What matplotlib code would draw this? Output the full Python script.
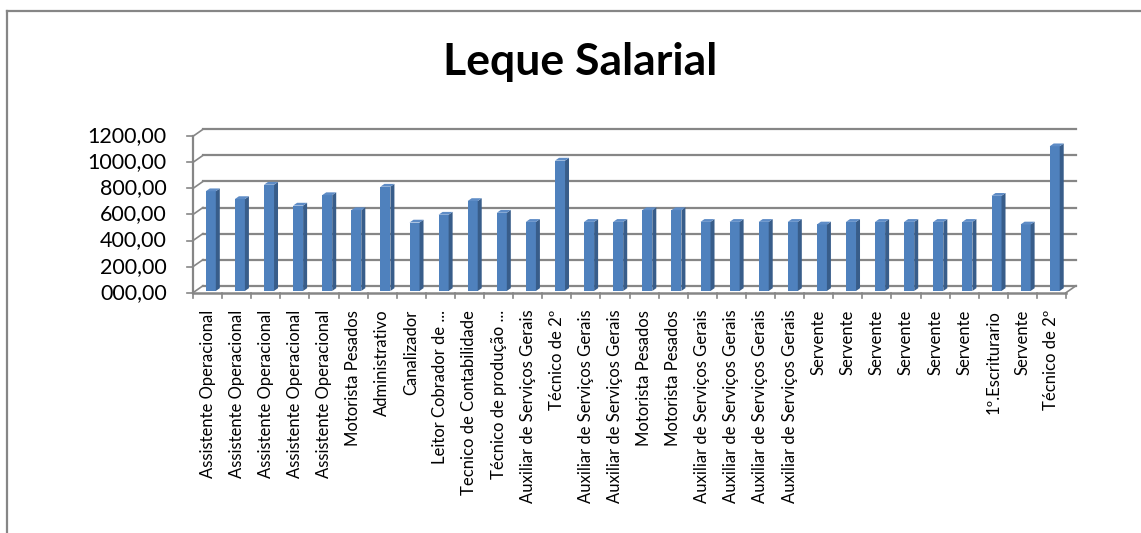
import matplotlib.pyplot as plt
import numpy as np
from matplotlib.lines import Line2D

categories = [
    'Assistente Operacional', 'Assistente Operacional', 'Assistente Operacional',
    'Assistente Operacional', 'Assistente Operacional', 'Motorista Pesados',
    'Administrativo', 'Canalizador', 'Leitor Cobrador de ...',
    'Tecnico de Contabilidade', 'Técnico de produção ...', 'Auxiliar de Serviços Gerais',
    'Técnico de 2º', 'Auxiliar de Serviços Gerais', 'Auxiliar de Serviços Gerais',
    'Motorista Pesados', 'Motorista Pesados', 'Auxiliar de Serviços Gerais',
    'Auxiliar de Serviços Gerais', 'Auxiliar de Serviços Gerais', 'Auxiliar de Serviços Gerais',
    'Servente', 'Servente', 'Servente', 'Servente', 'Servente', 'Servente',
    '1º.Escriturario', 'Servente', 'Técnico de 2º',
]
salaries = [765, 705, 815, 655, 735, 620, 800, 525, 585, 690, 600, 530, 1000,
            530, 530, 620, 620, 530, 530, 530, 530, 510, 530, 530, 530, 530, 530,
            730, 510, 1110]
y_ticks = [0, 200, 400, 600, 800, 1000, 1200]
y_tick_labels = ['000,00', '200,00', '400,00', '600,00', '800,00', '1000,00', '1200,00']

# colours
front_color = '#4F81BD'
side_color = '#385D8A'
top_color = '#5E8CC6'
grid_color = '#868686'

W, H = 1141, 533
fig = plt.figure(figsize=(W / 100, H / 100), dpi=100)
fig.patch.set_facecolor('white')

# outer frame (top and left edges only visible)
fig.add_artist(Line2D([7 / W, 1.0], [1 - 11 / H, 1 - 11 / H], color=grid_color, lw=1.6))
fig.add_artist(Line2D([7 / W, 7 / W], [1 - 11 / H, 0], color=grid_color, lw=1.6))

fig.text(580 / W, 1 - 62 / H, 'Leque Salarial', ha='center', va='center',
         fontsize=32, fontweight='bold', family='Lato')

# plot region in pixels
px_left, px_right = 193, 1076
px_bottom, px_top = 292.7, 129.3
n = len(categories)
cat_px = 29.1
unit_px = 0.1307
dxd = 10 / cat_px        # depth offset (x) in data units
dyd = 7 / unit_px        # depth offset (y) in data units

ax = fig.add_axes([px_left / W, 1 - px_bottom / H,
                   (px_right - px_left) / W, (px_bottom - px_top) / H])
ax.set_xlim(0, n + dxd)
ax.set_ylim(0, 1200 + dyd)
ax.axis('off')

# back wall gridlines and left wall slants
for v, lab in zip(y_ticks, y_tick_labels):
    ax.plot([dxd, n + dxd], [v + dyd, v + dyd], color=grid_color, lw=1.6, zorder=1, clip_on=False)
    ax.plot([0, dxd], [v, v + dyd], color=grid_color, lw=1.2, zorder=1, clip_on=False)
    ax.plot([-0.2, 0], [v, v], color=grid_color, lw=1.2, zorder=1, clip_on=False)
    ax.text(-0.9, v, lab, ha='right', va='center',
            fontsize=15.5, family='Lato', color='black')
ax.plot([0, 0], [0, 1200], color=grid_color, lw=1.6, zorder=1, clip_on=False)

# floor
ax.plot([0, n], [0, 0], color=grid_color, lw=1.8, zorder=1, clip_on=False)
ax.plot([n, n + dxd], [0, dyd], color=grid_color, lw=1.2, zorder=1, clip_on=False)
for k in range(n + 1):
    ax.plot([k, k], [0, -40], color=grid_color, lw=1.2, zorder=1, clip_on=False)

# bars with a pseudo 3D look
f = 0.25
bw = 0.344
base = f * dyd
x0 = np.arange(n) + 0.44
ax.bar(x0, salaries, width=bw, bottom=base, align='edge', color=front_color, zorder=3)
ddx, ddy = 0.4 * dxd, 0.4 * dyd
for xs, v in zip(x0, salaries):
    x1 = xs + bw
    top = base + v
    ax.fill([x1, x1 + ddx, x1 + ddx, x1], [base, base + ddy, top + ddy, top],
            color=side_color, lw=0, zorder=3)
    ax.fill([xs, x1, x1 + ddx, xs + ddx], [top, top, top + ddy, top + ddy],
            color=top_color, lw=0, zorder=3)

# category labels
for i, lab in enumerate(categories):
    ax.text(i + 0.5, -130, lab, rotation=90, ha='center', va='top',
            fontsize=12, family='Lato', color='black')

fig.savefig('out.png', dpi=100)
